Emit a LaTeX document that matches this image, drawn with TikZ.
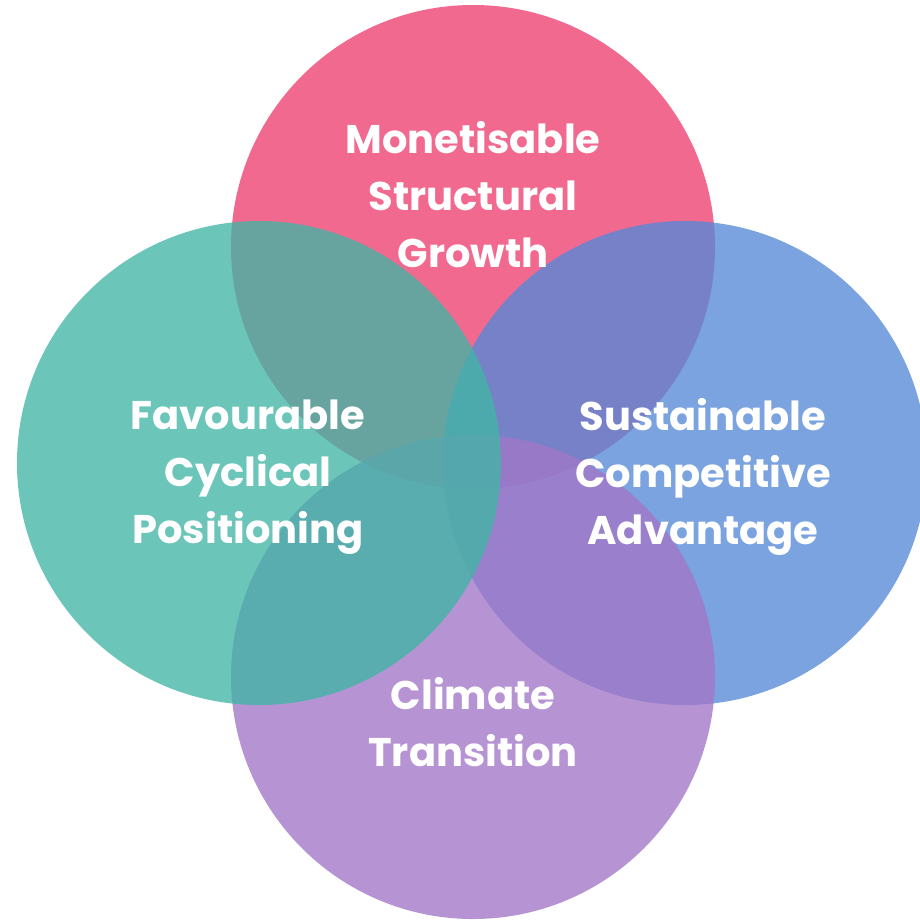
\documentclass[tikz,border=0pt]{standalone}
\usepackage{fontspec}
\setmainfont{Poppins}[UprightFont=* Bold, BoldFont=* ExtraBold]
\definecolor{cpink}{RGB}{238,63,112}
\definecolor{cteal}{RGB}{65,181,165}
\definecolor{cblue}{RGB}{85,137,215}
\definecolor{cpurple}{RGB}{162,118,200}
\begin{document}
\begin{tikzpicture}[x=1pt,y=-1pt,
  disc/.style={fill=#1, fill opacity=0.78, draw=none},
  lbl/.style={text=white, align=center, font=\fontsize{40}{57}\selectfont, inner sep=0pt}]
\useasboundingbox (0,0) rectangle (920,919);
\begin{scope}
\clip (0,0) rectangle (920,919);
\fill[disc=cpink] (473,247) circle[radius=242];
\fill[disc=cblue] (685,463) circle[radius=242];
\fill[disc=cpurple] (473,677) circle[radius=242];
\fill[disc=cteal] (259,463) circle[radius=242];
\end{scope}
\node[lbl] (msg) at (473,195) {Monetisable\\Structural\\Growth};
\node[lbl] (fcp) at (248,477) {Favourable\\Cyclical\\Positioning};
\node[lbl] (sca) at (703,477) {Sustainable\\Competitive\\Advantage};
\node[lbl] (ct) at (473,722) {Climate\\Transition};
\end{tikzpicture}
\end{document}
